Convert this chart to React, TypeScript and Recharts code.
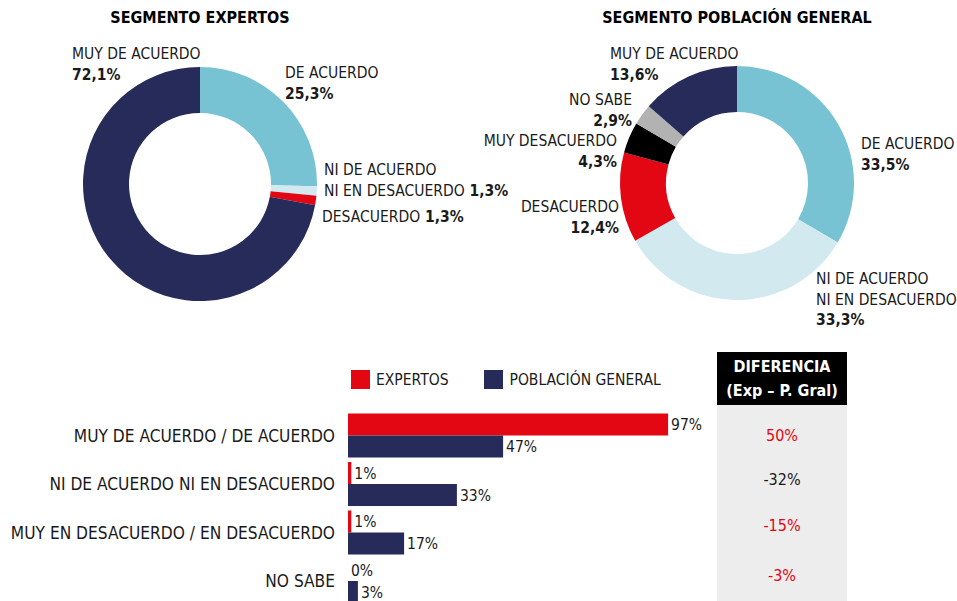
import { Bar, BarChart, Cell, LabelList, Legend, Pie, PieChart, XAxis, YAxis } from 'recharts';

const FONT = "'Liberation Sans Narrow', 'Arial Narrow', 'DejaVu Sans Condensed', sans-serif";

const NAVY = '#262b5a';
const LIGHT = '#78c3d3';
const PALE = '#d3e9f0';
const RED = '#e30613';
const BLACK = '#000000';
const GRAY = '#b2b2b2';
const TEXT = '#1a1a1a';

// donuts go clockwise from 12 o'clock
const EXP_NAMES = ['DE ACUERDO', 'NI DE ACUERDO NI EN DESACUERDO', 'DESACUERDO', 'MUY DE ACUERDO'];
const EXP_VALUES = [25.3, 1.3, 1.3, 72.1];
const EXP_COLORS = [LIGHT, PALE, RED, NAVY];

const GEN_NAMES = [
  'DE ACUERDO',
  'NI DE ACUERDO NI EN DESACUERDO',
  'DESACUERDO',
  'MUY DESACUERDO',
  'NO SABE',
  'MUY DE ACUERDO',
];
const GEN_VALUES = [33.5, 33.3, 12.4, 4.3, 2.9, 13.6];
const GEN_COLORS = [LIGHT, PALE, RED, BLACK, GRAY, NAVY];

const BAR_CATEGORIES = [
  'MUY DE ACUERDO / DE ACUERDO',
  'NI DE ACUERDO NI EN DESACUERDO',
  'MUY EN DESACUERDO / EN DESACUERDO',
  'NO SABE',
];
const EXPERTOS = [97, 1, 1, 0];
const POBLACION = [47, 33, 17, 3];
const DIFERENCIA = [50, -32, -15, -3];
const DIFF_COLORS = [RED, TEXT, RED, RED];

type SliceLabel = {
  lines: string[];
  dx: number;
  dy: number;
  anchor: 'start' | 'end';
  inline?: boolean;
};

const LINE_H = 20.5;

const EXP_LABELS: SliceLabel[] = [
  { lines: ['DE ACUERDO'], dx: 85, dy: -111, anchor: 'start' },
  { lines: ['NI DE ACUERDO', 'NI EN DESACUERDO'], dx: 124, dy: -14, anchor: 'start', inline: true },
  { lines: ['DESACUERDO'], dx: 122, dy: 33, anchor: 'start', inline: true },
  { lines: ['MUY DE ACUERDO'], dx: -128, dy: -130, anchor: 'start' },
];

const GEN_LABELS: SliceLabel[] = [
  { lines: ['DE ACUERDO'], dx: 124, dy: -39, anchor: 'start' },
  { lines: ['NI DE ACUERDO', 'NI EN DESACUERDO'], dx: 79, dy: 96, anchor: 'start' },
  { lines: ['DESACUERDO'], dx: -118, dy: 24, anchor: 'end' },
  { lines: ['MUY DESACUERDO'], dx: -120, dy: -42, anchor: 'end' },
  { lines: ['NO SABE'], dx: -105, dy: -83, anchor: 'end' },
  { lines: ['MUY DE ACUERDO'], dx: -127, dy: -129, anchor: 'start' },
];

const fmt = (v: number) => v.toFixed(1).replace('.', ',') + '%';

function sliceLabel(layout: SliceLabel[], values: number[]) {
  return (props: any) => {
    const l = layout[props.index];
    const x = props.cx + l.dx;
    const y0 = props.cy + l.dy;
    const pct = fmt(values[props.index]);
    const last = l.lines.length - 1;
    return (
      <g key={`lbl-${props.index}`} fontFamily={FONT} fontSize={15.5} fill={TEXT}>
        {l.lines.map((line, i) => (
          <text key={i} x={x} y={y0 + i * LINE_H} textAnchor={l.anchor} dominantBaseline="central">
            {line}
            {l.inline && i === last ? <tspan fontWeight="bold">{' ' + pct}</tspan> : null}
          </text>
        ))}
        {!l.inline && (
          <text
            x={x}
            y={y0 + l.lines.length * LINE_H}
            textAnchor={l.anchor}
            dominantBaseline="central"
            fontWeight="bold"
          >
            {pct}
          </text>
        )}
      </g>
    );
  };
}

type DonutProps = {
  title: string;
  names: string[];
  values: number[];
  colors: string[];
  labels: SliceLabel[];
  left: number;
  width: number;
  cx: number;
  cy: number;
};

function Donut({ title, names, values, colors, labels, left, width, cx, cy }: DonutProps) {
  const data = names.map((name, i) => ({ name, value: values[i] }));
  return (
    <div style={{ position: 'absolute', left, top: 0 }}>
      <PieChart width={width} height={335} margin={{ top: 0, right: 0, bottom: 0, left: 0 }}>
        <text
          x={cx}
          y={17}
          textAnchor="middle"
          dominantBaseline="central"
          fontFamily={FONT}
          fontSize={16}
          fontWeight="bold"
          fill={BLACK}
        >
          {title}
        </text>
        <Pie
          data={data}
          dataKey="value"
          nameKey="name"
          cx={cx}
          cy={cy}
          innerRadius={71}
          outerRadius={117}
          startAngle={90}
          endAngle={-270}
          stroke="none"
          labelLine={false}
          label={sliceLabel(labels, values)}
          isAnimationActive={false}
        >
          {data.map((d, i) => (
            <Cell key={d.name} fill={colors[i]} />
          ))}
        </Pie>
      </PieChart>
    </div>
  );
}

function BarLegend({ payload }: any) {
  return (
    <div style={{ display: 'flex', alignItems: 'center', fontFamily: FONT, fontSize: 15.5, color: TEXT }}>
      {(payload ?? []).map((p: any, i: number) => (
        <div key={p.value} style={{ display: 'flex', alignItems: 'center', marginRight: i === 0 ? 36 : 0 }}>
          <span style={{ width: 19, height: 19, background: p.color, display: 'inline-block', marginRight: 6 }} />
          <span>{p.value}</span>
        </div>
      ))}
    </div>
  );
}

export default function App() {
  const barData = BAR_CATEGORIES.map((name, i) => ({
    name,
    expertos: EXPERTOS[i],
    poblacion: POBLACION[i],
  }));

  return (
    <div
      style={{
        position: 'absolute',
        left: 0,
        top: 0,
        width: 957,
        height: 601,
        overflow: 'hidden',
        background: '#fff',
        fontFamily: FONT,
      }}
    >
      <Donut
        title="SEGMENTO EXPERTOS"
        names={EXP_NAMES}
        values={EXP_VALUES}
        colors={EXP_COLORS}
        labels={EXP_LABELS}
        left={0}
        width={560}
        cx={200}
        cy={184}
      />
      <Donut
        title="SEGMENTO POBLACIÓN GENERAL"
        names={GEN_NAMES}
        values={GEN_VALUES}
        colors={GEN_COLORS}
        labels={GEN_LABELS}
        left={478}
        width={479}
        cx={259}
        cy={183}
      />

      <div style={{ position: 'absolute', left: 0, top: 350 }}>
        <BarChart
          width={720}
          height={260}
          data={barData}
          layout="vertical"
          margin={{ top: 61.5, right: 42, bottom: 4.5, left: 0 }}
          barCategoryGap={2}
          barGap={0}
        >
          <XAxis type="number" domain={[0, 100]} hide />
          <YAxis
            type="category"
            dataKey="name"
            width={348}
            axisLine={false}
            tickLine={false}
            tickSize={0}
            tickMargin={13}
            interval={0}
            tick={{ fontSize: 17.2, fill: TEXT, fontFamily: FONT }}
          />
          <Legend
            verticalAlign="middle"
            align="center"
            layout="horizontal"
            content={<BarLegend />}
            wrapperStyle={{ top: 20, left: 351, width: 'auto', height: 'auto' }}
          />
          <Bar dataKey="expertos" name="EXPERTOS" fill={RED} minPointSize={0.01} isAnimationActive={false}>
            <LabelList
              dataKey="expertos"
              position="right"
              offset={3}
              formatter={(v: any) => `${v}%`}
              style={{ fontSize: 15.5, fill: TEXT, fontFamily: FONT }}
            />
          </Bar>
          <Bar dataKey="poblacion" name="POBLACIÓN GENERAL" fill={NAVY} isAnimationActive={false}>
            <LabelList
              dataKey="poblacion"
              position="right"
              offset={3}
              formatter={(v: any) => `${v}%`}
              style={{ fontSize: 15.5, fill: TEXT, fontFamily: FONT }}
            />
          </Bar>
        </BarChart>
      </div>

      <div style={{ position: 'absolute', left: 717, top: 352, width: 130 }}>
        <div
          style={{
            height: 53,
            background: BLACK,
            color: '#fff',
            fontWeight: 'bold',
            fontSize: 16,
            textAlign: 'center',
            display: 'flex',
            flexDirection: 'column',
            justifyContent: 'center',
            lineHeight: '24px',
          }}
        >
          <div>DIFERENCIA</div>
          <div>(Exp – P. Gral)</div>
        </div>
        <div style={{ position: 'relative', height: 196, background: '#ededed' }}>
          {DIFERENCIA.map((d, i) => (
            <div
              key={i}
              style={{
                position: 'absolute',
                left: 0,
                width: 130,
                top: [31, 75, 121, 171][i] - 10,
                height: 20,
                lineHeight: '20px',
                textAlign: 'center',
                fontSize: 16,
                color: DIFF_COLORS[i],
              }}
            >
              {`${d}%`}
            </div>
          ))}
        </div>
      </div>
    </div>
  );
}
